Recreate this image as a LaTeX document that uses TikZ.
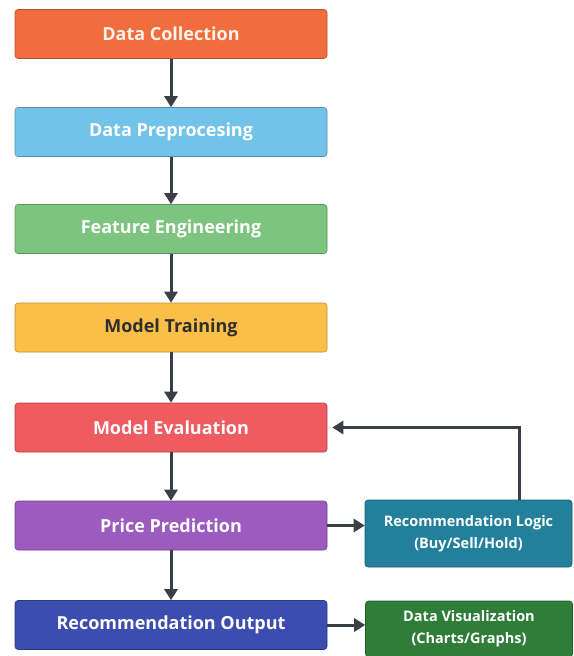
\documentclass[tikz,border=0pt]{standalone}
\usepackage{fontspec}
\setmainfont{Open Sans}
\usetikzlibrary{positioning, arrows.meta, calc}
\definecolor{cOrange}{HTML}{F26D3D}
\definecolor{cSky}{HTML}{72C2EA}
\definecolor{cLeaf}{HTML}{7CC47F}
\definecolor{cAmber}{HTML}{FBBF47}
\definecolor{cRed}{HTML}{EE5B60}
\definecolor{cPurple}{HTML}{9C5BBF}
\definecolor{cNavy}{HTML}{3B4DAE}
\definecolor{cTeal}{HTML}{23809A}
\definecolor{cForest}{HTML}{2F7D38}
\definecolor{cArrow}{HTML}{3A3E46}
\definecolor{cInk}{HTML}{2E2E2E}

\begin{document}
\begin{tikzpicture}[
  x=1pt, y=-1pt,
  every node/.style={font=\bfseries},
  stage/.style={draw=#1!75!black, fill=#1, rounded corners=3pt, line width=0.6pt,
    minimum width=312pt, minimum height=49pt, inner sep=0pt, text=white, font=\bfseries\fontsize{18}{20}\selectfont},
  sidebox/.style={draw=#1!75!black, fill=#1, rounded corners=3pt, line width=0.6pt,
    minimum width=207pt, inner sep=0pt, text=white, align=center,
    font=\bfseries\fontsize{14.5}{22}\selectfont},
  flow/.style={cArrow, line width=3pt, -{Triangle[length=11pt,width=13pt]}}
]
\useasboundingbox (0,0) rectangle (573,656);
\fill[white] (0,0) rectangle (573,656);

% main column: (name, y, color, text)
\def\stage#1#2#3#4{%
  \node[stage=#3] (#1) at (171,#2) {#4};
}
\stage{collect}{34}{cOrange}{\color{white!92!orange}Data Collection}
\stage{prep}{132}{cSky}{Data Preprocesing}
\stage{feat}{229}{cLeaf}{Feature Engineering}
\stage{train}{327.5}{cAmber}{\color{cInk}Model Training}
\stage{eval}{427.5}{cRed}{Model Evaluation}
\stage{pred}{525.5}{cPurple}{Price Prediction}
\stage{out}{625}{cNavy}{Recommendation Output}

% side boxes
\node[sidebox=cTeal, minimum height=67pt] (logic) at (468.5,533.5) {Recommendation Logic\\(Buy/Sell/Hold)};
\node[sidebox=cForest, minimum height=56pt] (vis) at (469,629) {Data Visualization\\(Charts/Graphs)};

% arrows down the column
\foreach \a/\b in {collect/prep, prep/feat, feat/train, train/eval, eval/pred, pred/out}
  \draw[flow] (\a.south) -- (\b.north);

% side arrows
\draw[flow] (pred.east) -- (pred.east -| logic.west);
\draw[flow] (out.east) -- (out.east -| vis.west);

% feedback loop
\coordinate (fb) at (519,430);
\draw[flow, shorten >=5pt] (logic.north -| fb) |- (eval.east);
\end{tikzpicture}
\end{document}
